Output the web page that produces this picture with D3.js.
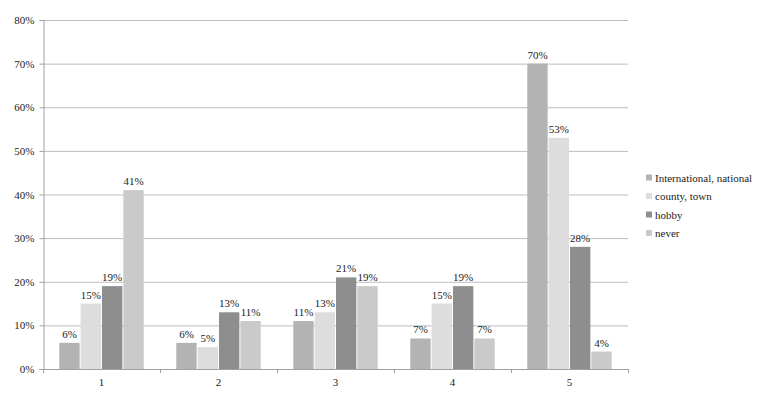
<!DOCTYPE html>
<html>
<head>
<meta charset="utf-8">
<script src="https://cdn.jsdelivr.net/npm/d3@7"></script>
<style>
  body { margin: 0; background: #fff; }
  text { font-family: "Liberation Serif", "DejaVu Serif", serif; fill: #222; }
</style>
</head>
<body>
<script>
var width = 771,
    height = 396;

// data
var categories = ["1", "2", "3", "4", "5"];
var seriesNames = ["International, national", "county, town", "hobby", "never"];
var international = [6, 6, 11, 7, 70];
var county = [15, 5, 13, 15, 53];
var hobby = [19, 13, 21, 19, 28];
var never = [41, 11, 19, 7, 4];
var yTicks = [0, 10, 20, 30, 40, 50, 60, 70, 80];

var seriesValues = [international, county, hobby, never];
var colors = ["#b3b3b3", "#dddddd", "#8e8e8e", "#cacaca"];

var margin = {top: 20, left: 43, right: 143, bottom: 27};

var svg = d3.select("body").append("svg")
    .attr("width", width)
    .attr("height", height);

var x = d3.scaleBand()
    .domain(categories)
    .range([margin.left, width - margin.right])
    .paddingInner(0.27)
    .paddingOuter(0.135);

var xs = d3.scaleBand()
    .domain(d3.range(seriesNames.length))
    .range([0, x.bandwidth()]);

var y = d3.scaleLinear()
    .domain([0, 80])
    .range([height - margin.bottom, margin.top]);

// gridlines
svg.append("g")
    .selectAll("line")
    .data(yTicks.slice(1))
    .join("line")
      .attr("x1", margin.left)
      .attr("x2", width - margin.right)
      .attr("y1", d => y(d) + 0.5)
      .attr("y2", d => y(d) + 0.5)
      .attr("stroke", "#bdbdbd");

// y axis
var yAxis = svg.append("g")
    .attr("transform", "translate(" + (margin.left + 0.5) + ",0)")
    .call(d3.axisLeft(y).tickValues(yTicks).tickFormat(d => d + "%").tickSize(4).tickPadding(5));
yAxis.select(".domain").attr("stroke", "#a0a0a0");
yAxis.selectAll(".tick line").attr("stroke", "#a0a0a0");
yAxis.selectAll("text").style("font-size", "11px").attr("fill", "#222");

// x axis
var outer = x.step() * x.paddingOuter();
var bounds = categories.map(c => x(c) - x.step() * x.paddingInner() / 2);
bounds.push(width - margin.right);

var xAxis = svg.append("g");
xAxis.append("line")
    .attr("x1", margin.left)
    .attr("x2", width - margin.right)
    .attr("y1", y(0) + 0.5)
    .attr("y2", y(0) + 0.5)
    .attr("stroke", "#a0a0a0");
xAxis.selectAll(".tk")
    .data(bounds)
    .join("line")
      .attr("class", "tk")
      .attr("x1", d => Math.round(d) + 0.5)
      .attr("x2", d => Math.round(d) + 0.5)
      .attr("y1", y(0))
      .attr("y2", y(0) + 4)
      .attr("stroke", "#a0a0a0");
xAxis.selectAll(".lbl")
    .data(categories)
    .join("text")
      .attr("class", "lbl")
      .attr("x", d => x(d) + x.bandwidth() / 2)
      .attr("y", y(0) + 17)
      .attr("text-anchor", "middle")
      .style("font-size", "11px")
      .text(d => d);

// bars
var groups = svg.append("g")
    .selectAll("g")
    .data(seriesValues)
    .join("g")
      .attr("fill", (d, i) => colors[i]);

groups.selectAll("rect")
    .data((vals, si) => vals.map((v, ci) => ({si: si, cat: categories[ci], v: v})))
    .join("rect")
      .attr("x", d => x(d.cat) + xs(d.si) + 0.5)
      .attr("width", xs.bandwidth() - 1)
      .attr("y", d => y(d.v))
      .attr("height", d => y(0) - y(d.v));

groups.selectAll("text")
    .data((vals, si) => vals.map((v, ci) => ({si: si, cat: categories[ci], v: v})))
    .join("text")
      .attr("x", d => x(d.cat) + xs(d.si) + xs.bandwidth() / 2)
      .attr("y", d => y(d.v) - 5)
      .attr("text-anchor", "middle")
      .style("font-size", "11px")
      .attr("fill", "#222")
      .text(d => d.v + "%");

// legend
var legend = svg.append("g")
    .attr("transform", "translate(646,178)");
var item = legend.selectAll("g")
    .data(seriesNames)
    .join("g")
      .attr("transform", (d, i) => "translate(0," + (i * 18.5) + ")");
item.append("rect")
    .attr("x", 0)
    .attr("y", -3.5)
    .attr("width", 6)
    .attr("height", 6)
    .attr("fill", (d, i) => colors[i]);
item.append("text")
    .attr("x", 9)
    .attr("y", 0)
    .attr("dy", "0.35em")
    .style("font-size", "11px")
    .text(d => d);
</script>
</body>
</html>
